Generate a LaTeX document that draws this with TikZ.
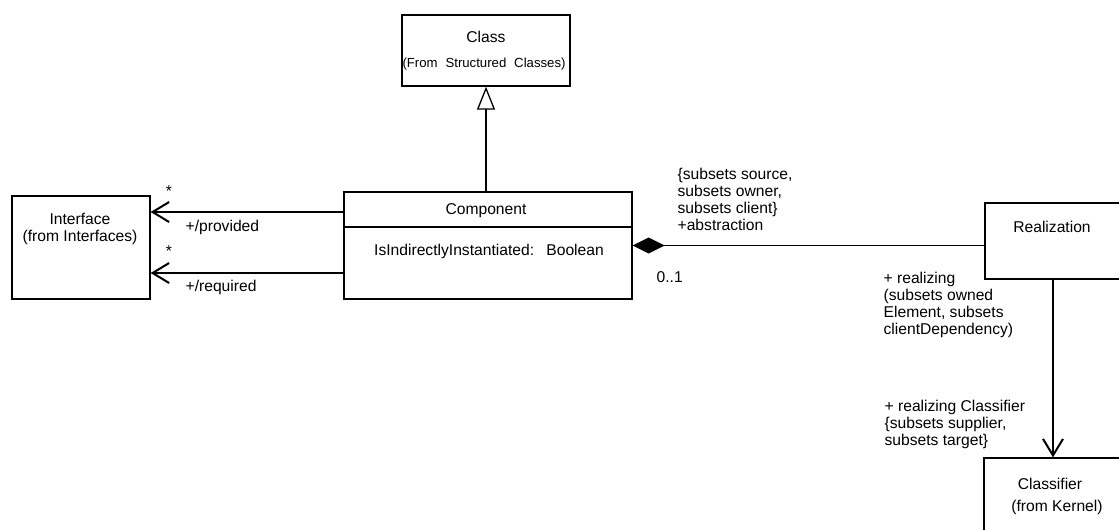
\documentclass[tikz,border=0pt]{standalone}
\usepackage{fontspec}
\setmainfont{Liberation Sans}
\usetikzlibrary{arrows.meta}

\begin{document}
\begin{tikzpicture}[x=0.02cm, y=-0.02cm, line width=0.75pt,
  box/.style={draw, rectangle, inner sep=0pt},
  txt/.style={inner sep=0pt, font=\fontsize{8.9pt}{9.7pt}\selectfont},
  lbl/.style={txt, align=left, anchor=west},
  arr/.style={line width=1.15pt, -{Straight Barb[length=0.33cm, width=0.4cm, line width=1.15pt]}},
  gen/.style={-{Triangle[open, length=0.46cm, width=0.36cm, fill=white]}},
  dia/.style={{Diamond[length=0.64cm, width=0.32cm]}-}]

  \useasboundingbox (0,0) rectangle (1119,529);
  \clip (0,0) rectangle (1119,529);

  % class boxes
  \node[box, minimum width=3.36cm, minimum height=1.42cm] (cls) at (486,50.5) {};
  \node[txt] (clsname) at (486,37) {Class};
  \node[txt, font=\fontsize{7.5pt}{8pt}\selectfont] (clsfrom) at (484,64)
    {(From\hspace{4.5pt}Structured\hspace{4.5pt}Classes)};

  \node[box, minimum width=5.76cm, minimum height=2.14cm] (comp) at (488,245.5) {};
  \draw (comp.west |- 0,227) -- (comp.east |- 0,227);
  \node[txt] (compname) at (486,211) {Component};
  \node[txt] (compattr) at (489,251) {IsIndirectlyInstantiated:\hspace{7pt}Boolean};

  \node[box, minimum width=2.76cm, minimum height=2.06cm] (iface) at (81,247.5) {};
  \node[txt, align=center] (ifacename) at (80,229) {Interface\\(from Interfaces)};

  \node[box, minimum width=2.72cm, minimum height=1.52cm] (real) at (1053,241) {};
  \node[txt] (realname) at (1052,227) {Realization};

  \node[box, minimum width=2.74cm, minimum height=1.74cm] (clsf) at (1052.5,501.5) {};
  \node[txt] (clsfname) at (1050,484) {Classifier};
  \node[txt] (clsffrom) at (1057,507) {(from Kernel)};

  % generalization Component -> Class
  \draw[gen] (cls.south |- comp.north) -- (cls.south);

  % provided / required interfaces
  \draw[arr] (comp.west |- 0,212) -- (iface.east |- 0,212);
  \draw[arr] (comp.west |- 0,273) -- (iface.east |- 0,273);
  \node[txt] (star1) at (169,191) {*};
  \node[txt] (star2) at (169,251) {*};
  \node[lbl] (prov) at (185,227) {+/provided};
  \node[lbl] (req) at (185,287) {+/required};

  % composition Component <>- Realization
  \draw[dia] (comp.east) -- (comp.east -| real.west);
  \node[lbl] (abstr) at (677,199)
    {\{subsets source,\\subsets owner,\\subsets client\}\\+abstraction};
  \node[lbl] (mult) at (656,277) {0..1};
  \node[lbl] (rlz) at (883,305)
    {+ realizing\\(subsets owned\\Element, subsets\\clientDependency)};

  % Realization -> Classifier
  \draw[arr] (real.south) -- (real.south |- clsf.north);
  \node[lbl] (rlzcls) at (884,424)
    {+ realizing Classifier\\\{subsets supplier,\\subsets target\}};

\end{tikzpicture}
\end{document}
